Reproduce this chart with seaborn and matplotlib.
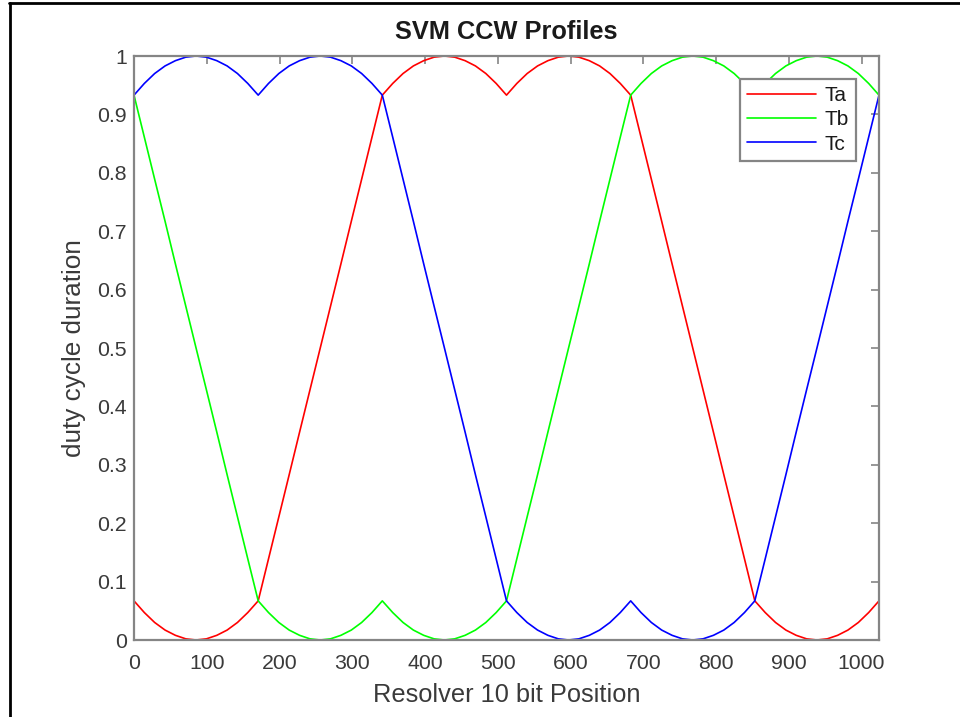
import numpy as np
import pandas as pd
import matplotlib
matplotlib.use("Agg")
import matplotlib.pyplot as plt
from matplotlib.lines import Line2D
import seaborn as sns

# ---- data ----
position = [0, 14.2, 28.4, 42.7, 56.9, 71.1, 85.3, 99.6, 113.8, 128.0, 142.2, 156.4,
            170.7, 184.9, 199.1, 213.3, 227.6, 241.8, 256.0, 270.2, 284.4, 298.7, 312.9, 327.1,
            341.3, 355.6, 369.8, 384.0, 398.2, 412.4, 426.7, 440.9, 455.1, 469.3, 483.6, 497.8,
            512.0, 526.2, 540.4, 554.7, 568.9, 583.1, 597.3, 611.6, 625.8, 640.0, 654.2, 668.4,
            682.7, 696.9, 711.1, 725.3, 739.6, 753.8, 768.0, 782.2, 796.4, 810.7, 824.9, 839.1,
            853.3, 867.6, 881.8, 896.0, 910.2, 924.4, 938.7, 952.9, 967.1, 981.3, 995.6, 1009.8,
            1024.0]

Ta = [0.067, 0.047, 0.030, 0.017, 0.008, 0.002, 0.000, 0.002, 0.008, 0.017, 0.030, 0.047,
      0.067, 0.139, 0.211, 0.283, 0.356, 0.428, 0.500, 0.572, 0.644, 0.717, 0.789, 0.861,
      0.933, 0.953, 0.970, 0.983, 0.992, 0.998, 1.000, 0.998, 0.992, 0.983, 0.970, 0.953,
      0.933, 0.953, 0.970, 0.983, 0.992, 0.998, 1.000, 0.998, 0.992, 0.983, 0.970, 0.953,
      0.933, 0.861, 0.789, 0.717, 0.644, 0.572, 0.500, 0.428, 0.356, 0.283, 0.211, 0.139,
      0.067, 0.047, 0.030, 0.017, 0.008, 0.002, 0.000, 0.002, 0.008, 0.017, 0.030, 0.047,
      0.067]

Tb = [0.933, 0.861, 0.789, 0.717, 0.644, 0.572, 0.500, 0.428, 0.356, 0.283, 0.211, 0.139,
      0.067, 0.047, 0.030, 0.017, 0.008, 0.002, 0.000, 0.002, 0.008, 0.017, 0.030, 0.047,
      0.067, 0.047, 0.030, 0.017, 0.008, 0.002, 0.000, 0.002, 0.008, 0.017, 0.030, 0.047,
      0.067, 0.139, 0.211, 0.283, 0.356, 0.428, 0.500, 0.572, 0.644, 0.717, 0.789, 0.861,
      0.933, 0.953, 0.970, 0.983, 0.992, 0.998, 1.000, 0.998, 0.992, 0.983, 0.970, 0.953,
      0.933, 0.953, 0.970, 0.983, 0.992, 0.998, 1.000, 0.998, 0.992, 0.983, 0.970, 0.953,
      0.933]

Tc = [0.933, 0.953, 0.970, 0.983, 0.992, 0.998, 1.000, 0.998, 0.992, 0.983, 0.970, 0.953,
      0.933, 0.953, 0.970, 0.983, 0.992, 0.998, 1.000, 0.998, 0.992, 0.983, 0.970, 0.953,
      0.933, 0.861, 0.789, 0.717, 0.644, 0.572, 0.500, 0.428, 0.356, 0.283, 0.211, 0.139,
      0.067, 0.047, 0.030, 0.017, 0.008, 0.002, 0.000, 0.002, 0.008, 0.017, 0.030, 0.047,
      0.067, 0.047, 0.030, 0.017, 0.008, 0.002, 0.000, 0.002, 0.008, 0.017, 0.030, 0.047,
      0.067, 0.139, 0.211, 0.283, 0.356, 0.428, 0.500, 0.572, 0.644, 0.717, 0.789, 0.861,
      0.933]

series_names = ["Ta", "Tb", "Tc"]
series_colors = ["#ff0000", "#00ff00", "#0000ff"]
x_ticks = [0, 100, 200, 300, 400, 500, 600, 700, 800, 900, 1000]
y_ticks = [0, 0.1, 0.2, 0.3, 0.4, 0.5, 0.6, 0.7, 0.8, 0.9, 1]
y_tick_labels = ["0", "0.1", "0.2", "0.3", "0.4", "0.5", "0.6", "0.7", "0.8", "0.9", "1"]

df = pd.concat([
    pd.DataFrame({"position": position, "duty": vals, "series": name})
    for name, vals in zip(series_names, [Ta, Tb, Tc])
], ignore_index=True)

# ---- style ----
sns.set_style("white")
plt.rcParams["font.family"] = ["Liberation Sans", "DejaVu Sans"]

text_col = "#3a3a3a"
axis_col = "#858585"

fig = plt.figure(figsize=(9.6, 7.17), dpi=100)
ax = fig.add_axes([134 / 960, 1 - 640 / 717, (879 - 134) / 960, (640 - 56) / 717])

sns.lineplot(data=df, x="position", y="duty", hue="series",
             palette=dict(zip(series_names, series_colors)),
             estimator=None, sort=False, linewidth=1.2, ax=ax)

ax.set_xlim(0, 1024)
ax.set_ylim(0, 1)
ax.set_xticks(x_ticks)
ax.set_yticks(y_ticks)
ax.set_yticklabels(y_tick_labels)

for s in ax.spines.values():
    s.set_visible(True)
    s.set_color(axis_col)
    s.set_linewidth(1.6)

ax.tick_params(axis="both", direction="in", top=True, right=True, length=6, width=1.2,
               color=axis_col, labelcolor=text_col, labelsize=15.3)
ax.tick_params(axis="x", pad=10)
ax.tick_params(axis="y", pad=5)

ax.set_title("SVM CCW Profiles", fontsize=18.3, fontweight="bold", color="#1a1a1a", pad=12)
ax.set_xlabel("Resolver 10 bit Position", fontsize=18.3, color=text_col, labelpad=7)
ax.set_ylabel("duty cycle duration", fontsize=18.8, color=text_col, labelpad=8)

leg = ax.legend(loc="upper right", fontsize=15, frameon=True, fancybox=False,
                framealpha=1, edgecolor=axis_col, handlelength=3.3, handletextpad=0.4,
                labelspacing=0.25, borderaxespad=1.1, borderpad=0.35)
leg.get_frame().set_linewidth(1.6)
for t in leg.get_texts():
    t.set_color("#1a1a1a")
for h in leg.get_lines():
    h.set_linewidth(1.2)

# outer frame lines (partly cropped in the reference)
fig.add_artist(Line2D([9.5 / 960, 9.5 / 960], [0, 1 - 3 / 717], color="black", linewidth=2,
                      transform=fig.transFigure))
fig.add_artist(Line2D([8.5 / 960, 1], [1 - 3 / 717, 1 - 3 / 717], color="black", linewidth=2,
                      transform=fig.transFigure))

fig.savefig("out.png", dpi=100)
